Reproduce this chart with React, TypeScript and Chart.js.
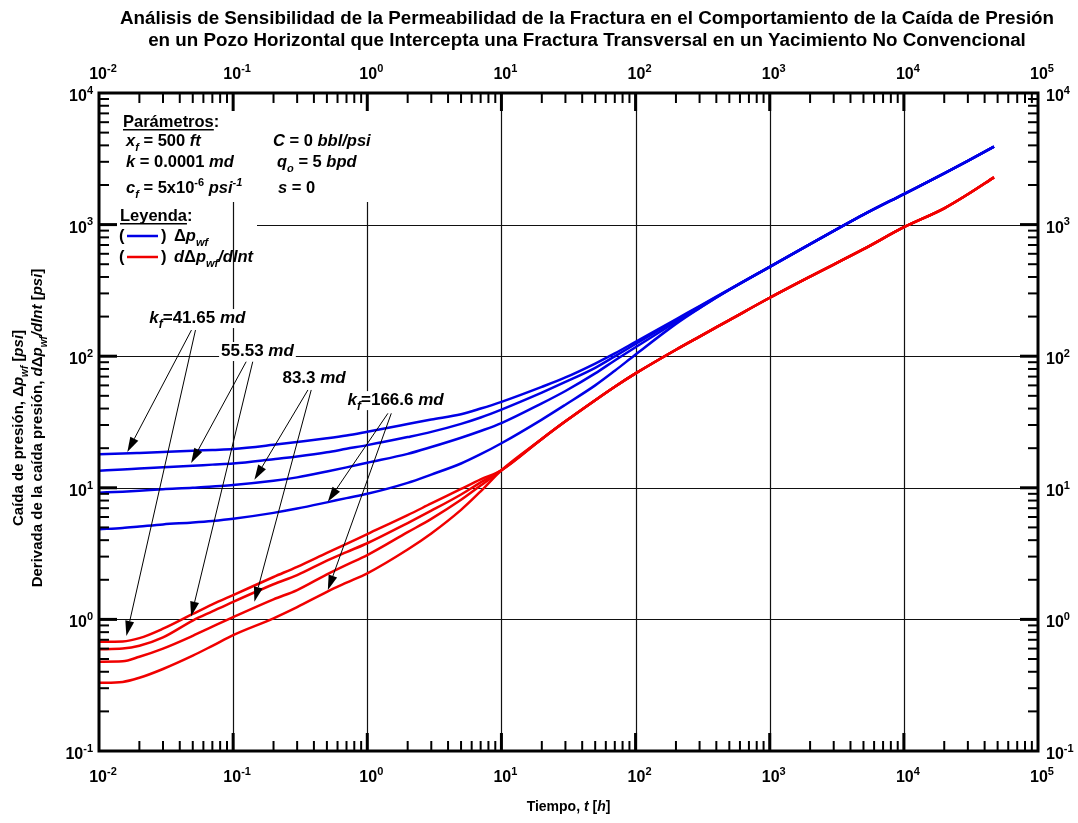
import React, { useEffect, useRef } from "react";
import { Chart, registerables } from "chart.js";
Chart.register(...registerables);

// ---------- data ----------
const tiempo = [0.01, 0.015, 0.02, 0.03, 0.05, 0.07, 0.1, 0.2, 0.3, 0.5, 0.7, 1, 2, 3, 5, 7, 10, 20, 30, 50, 70, 100, 200, 300, 500, 1000, 2000, 5000, 10000, 20000, 30000, 47000];

const dp_41_65 = [17.96, 18.2, 18.4, 18.7, 19.1, 19.4, 19.7, 21.2, 22.3, 23.8, 25.0, 26.7, 30.5, 33.0, 36.2, 40.0, 45, 58.5, 69, 88, 105, 128.6, 191, 240, 322, 478, 710, 1190, 1706, 2450, 3050, 3917];
const dp_55_53 = [13.5, 13.75, 14.0, 14.3, 14.7, 15.0, 15.3, 16.5, 17.3, 18.6, 19.8, 21.1, 24.3, 26.6, 30.6, 34.2, 39.3, 52.9, 63.7, 81.6, 99.6, 123.7, 187.5, 238.7, 321, 478, 710, 1190, 1706, 2450, 3050, 3917];
const dp_83_3 = [9.18, 9.35, 9.5, 9.75, 10.0, 10.25, 10.5, 11.3, 12.0, 13.3, 14.3, 15.5, 18.1, 20.4, 24.0, 27.0, 31.0, 43.8, 54.4, 74.0, 92.8, 117, 182, 233, 320, 478, 710, 1190, 1706, 2450, 3050, 3917];
const dp_166_6 = [4.84, 4.95, 5.08, 5.27, 5.45, 5.6, 5.82, 6.45, 6.95, 7.75, 8.35, 9.0, 10.9, 12.6, 15.3, 18.0, 21.8, 33, 42.8, 60, 77.5, 103, 176, 232, 320, 478, 710, 1190, 1706, 2450, 3050, 3917];

const der_41_65 = [0.676, 0.68, 0.72, 0.85, 1.1, 1.3, 1.53, 2.1, 2.51, 3.2, 3.75, 4.45, 6.2, 7.6, 9.8, 11.6, 13.6, 23.5, 32, 46.3, 58.6, 74, 112, 141, 188, 278, 403, 650, 955, 1330, 1700, 2286];
const der_55_53 = [0.593, 0.6, 0.63, 0.73, 0.98, 1.15, 1.36, 1.85, 2.17, 2.8, 3.25, 3.79, 5.4, 6.7, 8.9, 11.0, 13.6, 23.5, 32, 46.3, 58.6, 74, 112, 141, 188, 278, 403, 650, 955, 1330, 1700, 2286];
const der_83_3 = [0.477, 0.48, 0.52, 0.6, 0.75, 0.88, 1.04, 1.42, 1.67, 2.2, 2.6, 3.08, 4.6, 5.8, 8.1, 10.4, 13.6, 23.5, 32, 46.3, 58.6, 74, 112, 141, 188, 278, 403, 650, 955, 1330, 1700, 2286];
const der_166_6 = [0.33, 0.335, 0.36, 0.42, 0.53, 0.63, 0.76, 1.02, 1.24, 1.62, 1.9, 2.24, 3.4, 4.5, 6.8, 9.4, 13.6, 23.5, 32, 46.3, 58.6, 74, 112, 141, 188, 278, 403, 650, 955, 1330, 1700, 2286];

const xTickExponents = [-2, -1, 0, 1, 2, 3, 4, 5];
const yTickExponents = [-1, 0, 1, 2, 3, 4];

// annotation labels (data units: time, value at text baseline-left)
const labelTimes = [0.0237, 0.0813, 0.233, 0.713];
const labelValues = [178.6, 100.3, 62.5, 42.5];
// arrows: start (time, value) -> end (time, value)
const arrowFromT = [0.0489, 0.0524, 0.125, 0.14, 0.361, 0.382, 1.425, 1.51];
const arrowFromV = [158, 158, 90.8, 90.8, 55.4, 55.4, 36.8, 36.8];
const arrowToT = [0.01626, 0.016, 0.0486, 0.0486, 0.144, 0.144, 0.508, 0.508];
const arrowToV = [18.7, 0.748, 15.4, 1.05, 11.5, 1.36, 7.84, 1.67];

// ---------- drawing helpers ----------
const FONT = '"Liberation Sans", Arial, Helvetica, sans-serif';
type Seg = { t: string; i?: boolean; s?: "sub" | "sup"; u?: boolean };

function fnt(size: number, italic?: boolean) {
  return `${italic ? "italic " : ""}bold ${size}px ${FONT}`;
}
function segSize(seg: Seg, size: number) {
  return seg.s ? Math.round(size * 0.68) : size;
}
function richWidth(ctx: CanvasRenderingContext2D, segs: Seg[], size: number) {
  let w = 0;
  for (const s of segs) {
    ctx.font = fnt(segSize(s, size), s.i);
    w += ctx.measureText(s.t).width;
  }
  return w;
}
function drawRich(ctx: CanvasRenderingContext2D, x: number, y: number, segs: Seg[], size: number, align: "left" | "center" | "right" = "left") {
  const w = richWidth(ctx, segs, size);
  let cx = align === "center" ? x - w / 2 : align === "right" ? x - w : x;
  ctx.textAlign = "left";
  ctx.textBaseline = "alphabetic";
  for (const s of segs) {
    const sz = segSize(s, size);
    const dy = s.s === "sub" ? size * 0.3 : s.s === "sup" ? -size * 0.45 : 0;
    ctx.font = fnt(sz, s.i);
    ctx.fillText(s.t, cx, y + dy);
    const sw = ctx.measureText(s.t).width;
    if (s.u) {
      ctx.fillRect(cx, y + 2, sw, 1.5);
    }
    cx += sw;
  }
  return w;
}
function pow10Label(e: number): Seg[] {
  return [{ t: "10" }, { t: String(e), s: "sup" }];
}

const annotationLabels: Seg[][] = [
  [{ t: "k", i: true }, { t: "f", i: true, s: "sub" }, { t: "=41.65 " }, { t: "md", i: true }],
  [{ t: "55.53 " }, { t: "md", i: true }],
  [{ t: "83.3 " }, { t: "md", i: true }],
  [{ t: "k", i: true }, { t: "f", i: true, s: "sub" }, { t: "=166.6 " }, { t: "md", i: true }],
];

const decor = {
  id: "decor",
  beforeDatasetsDraw(chart: any) {
    const { ctx, chartArea: a, scales } = chart;
    const x = scales.x, y = scales.y;
    ctx.save();
    ctx.strokeStyle = "#111";
    ctx.lineWidth = 1.2;
    for (let e = -1; e <= 4; e++) {
      const px = Math.round(x.getPixelForValue(10 ** e)) + 0.5;
      const top = e <= 0 ? 202 : a.top;
      ctx.beginPath();
      ctx.moveTo(px, top);
      ctx.lineTo(px, a.bottom);
      ctx.stroke();
    }
    for (let e = 0; e <= 3; e++) {
      const py = Math.round(y.getPixelForValue(10 ** e)) + 0.5;
      const left = e === 3 ? 257 : a.left;
      ctx.beginPath();
      ctx.moveTo(left, py);
      ctx.lineTo(a.right, py);
      ctx.stroke();
    }
    ctx.restore();
  },
  afterDatasetsDraw(chart: any) {
    const { ctx, chartArea: a, scales } = chart;
    const x = scales.x, y = scales.y;
    ctx.save();
    ctx.fillStyle = "#000";
    // annotation labels
    for (let i = 0; i < annotationLabels.length; i++) {
      const lx = x.getPixelForValue(labelTimes[i]);
      const ly = y.getPixelForValue(labelValues[i]);
      const w = richWidth(ctx, annotationLabels[i], 17);
      ctx.fillStyle = "#fff";
      ctx.fillRect(lx - 2, ly - 14, w + 4, 19);
      ctx.fillStyle = "#000";
      drawRich(ctx, lx, ly, annotationLabels[i], 17);
    }
    // arrows
    ctx.strokeStyle = "#000";
    ctx.lineWidth = 1;
    for (let i = 0; i < arrowFromT.length; i++) {
      const x0 = x.getPixelForValue(arrowFromT[i]);
      const y0 = y.getPixelForValue(arrowFromV[i]);
      const x1 = x.getPixelForValue(arrowToT[i]);
      const y1 = y.getPixelForValue(arrowToV[i]);
      const ang = Math.atan2(y1 - y0, x1 - x0);
      const L = 15, H = 4.5;
      const bx = x1 - L * Math.cos(ang), by = y1 - L * Math.sin(ang);
      ctx.beginPath();
      ctx.moveTo(x0, y0);
      ctx.lineTo(bx, by);
      ctx.stroke();
      ctx.beginPath();
      ctx.moveTo(x1, y1);
      ctx.lineTo(bx + H * Math.sin(ang), by - H * Math.cos(ang));
      ctx.lineTo(bx - H * Math.sin(ang), by + H * Math.cos(ang));
      ctx.closePath();
      ctx.fill();
    }
    // ticks
    ctx.strokeStyle = "#000";
    const drawTick = (x0: number, y0: number, x1: number, y1: number, w: number) => {
      ctx.lineWidth = w;
      ctx.beginPath();
      ctx.moveTo(x0, y0);
      ctx.lineTo(x1, y1);
      ctx.stroke();
    };
    for (let e = -2; e < 5; e++) {
      for (let m = 1; m <= 9; m++) {
        if (m === 1 && e === -2) continue;
        const px = x.getPixelForValue(m * 10 ** e);
        const len = m === 1 ? 18 : 10;
        const w = m === 1 ? 3 : 2;
        drawTick(px, a.bottom, px, a.bottom - len, w);
        drawTick(px, a.top, px, a.top + len, w);
      }
    }
    for (let e = -1; e < 4; e++) {
      for (let m = 1; m <= 9; m++) {
        if (m === 1 && e === -1) continue;
        const py = y.getPixelForValue(m * 10 ** e);
        const len = m === 1 ? 18 : 10;
        const w = m === 1 ? 3 : 2;
        drawTick(a.left, py, a.left + len, py, w);
        drawTick(a.right, py, a.right - len, py, w);
      }
    }
    // border
    ctx.lineWidth = 3;
    ctx.strokeRect(a.left, a.top, a.right - a.left, a.bottom - a.top);
    ctx.restore();
  },
  afterDraw(chart: any) {
    const { ctx, chartArea: a, scales } = chart;
    const x = scales.x, y = scales.y;
    ctx.save();
    ctx.fillStyle = "#000";
    // title
    ctx.font = fnt(18.8);
    ctx.textAlign = "center";
    ctx.textBaseline = "alphabetic";
    ctx.fillText("Análisis de Sensibilidad de la Permeabilidad de la Fractura en el Comportamiento de la Caída de Presión", 587, 24);
    ctx.fillText("en un Pozo Horizontal que Intercepta una Fractura Transversal en un Yacimiento No Convencional", 587, 46);
    // tick labels
    for (const e of xTickExponents) {
      const px = x.getPixelForValue(10 ** e);
      drawRich(ctx, px + 4, a.bottom + 31, pow10Label(e), 16, "center");
      drawRich(ctx, px + 4, a.top - 14, pow10Label(e), 16, "center");
    }
    for (const e of yTickExponents) {
      const py = y.getPixelForValue(10 ** e);
      drawRich(ctx, a.left - 6, py + 8, pow10Label(e), 16, "right");
      drawRich(ctx, a.right + 8, py + 8, pow10Label(e), 16, "left");
    }
    // axis titles
    drawRich(ctx, (a.left + a.right) / 2, 811, [{ t: "Tiempo, " }, { t: "t", i: true }, { t: " [" }, { t: "h", i: true }, { t: "]" }], 14, "center");
    const cy = 428;
    ctx.save();
    ctx.translate(23, cy);
    ctx.rotate(-Math.PI / 2);
    drawRich(ctx, 0, 0, [{ t: "Caída de presión, Δ" }, { t: "p", i: true }, { t: "wf", i: true, s: "sub" }, { t: " [" }, { t: "psi", i: true }, { t: "]" }], 15, "center");
    ctx.restore();
    ctx.save();
    ctx.translate(42, cy);
    ctx.rotate(-Math.PI / 2);
    drawRich(ctx, 0, 0, [{ t: "Derivada de la caída presión, " }, { t: "d", i: true }, { t: "Δ" }, { t: "p", i: true }, { t: "wf", i: true, s: "sub" }, { t: "/dlnt", i: true }, { t: " [" }, { t: "psi", i: true }, { t: "]" }], 15, "center");
    ctx.restore();
    // parameters block
    const fs = 16.5;
    drawRich(ctx, 123, 127, [{ t: "Parámetros", u: true }, { t: ":" }], fs);
    drawRich(ctx, 126, 146, [{ t: "x", i: true }, { t: "f", i: true, s: "sub" }, { t: " = 500 " }, { t: "ft", i: true }], fs);
    drawRich(ctx, 126, 167, [{ t: "k", i: true }, { t: " = 0.0001 " }, { t: "md", i: true }], fs);
    drawRich(ctx, 126, 193, [{ t: "c", i: true }, { t: "f", i: true, s: "sub" }, { t: " = 5x10" }, { t: "-6", s: "sup" }, { t: " psi", i: true }, { t: "-1", i: true, s: "sup" }], fs);
    drawRich(ctx, 273, 146, [{ t: "C", i: true }, { t: " = 0 " }, { t: "bbl/psi", i: true }], fs);
    drawRich(ctx, 277, 167, [{ t: "q", i: true }, { t: "o", i: true, s: "sub" }, { t: " = 5 " }, { t: "bpd", i: true }], fs);
    drawRich(ctx, 278, 193, [{ t: "s", i: true }, { t: " = 0" }], fs);
    drawRich(ctx, 120, 221, [{ t: "Leyenda", u: true }, { t: ":" }], fs);
    // legend entries
    const legendRows = [
      { color: "#0000e6", y: 241, segs: [{ t: "Δ" }, { t: "p", i: true }, { t: "wf", i: true, s: "sub" }] as Seg[] },
      { color: "#f00000", y: 262, segs: [{ t: "d", i: true }, { t: "Δ" }, { t: "p", i: true }, { t: "wf", i: true, s: "sub" }, { t: "/dlnt", i: true }] as Seg[] },
    ];
    for (const r of legendRows) {
      drawRich(ctx, 119, r.y, [{ t: "(" }], fs);
      drawRich(ctx, 161, r.y, [{ t: ")" }], fs);
      ctx.strokeStyle = r.color;
      ctx.lineWidth = 2.5;
      ctx.beginPath();
      ctx.moveTo(127, r.y - 5);
      ctx.lineTo(158, r.y - 5);
      ctx.stroke();
      ctx.fillStyle = "#000";
      drawRich(ctx, 174, r.y, r.segs, fs);
    }
    ctx.restore();
  },
};

function series(vals: number[]) {
  return tiempo.map((t, i) => ({ x: t, y: vals[i] }));
}

export default function App() {
  const ref = useRef<HTMLCanvasElement | null>(null);
  useEffect(() => {
    if (!ref.current) return;
    const blue = "#0000e6";
    const red = "#f00000";
    const mk = (label: string, vals: number[], color: string) => ({
      label,
      data: series(vals),
      borderColor: color,
      backgroundColor: color,
      borderWidth: 2.5,
      pointRadius: 0,
      showLine: true,
      fill: false,
      cubicInterpolationMode: "monotone" as const,
    });
    const chart = new Chart(ref.current, {
      type: "line",
      data: {
        datasets: [
          mk("dΔp 41.65", der_41_65, red),
          mk("dΔp 55.53", der_55_53, red),
          mk("dΔp 83.3", der_83_3, red),
          mk("dΔp 166.6", der_166_6, red),
          mk("Δp 41.65", dp_41_65, blue),
          mk("Δp 55.53", dp_55_53, blue),
          mk("Δp 83.3", dp_83_3, blue),
          mk("Δp 166.6", dp_166_6, blue),
        ],
      },
      options: {
        responsive: false,
        devicePixelRatio: 1,
        animation: false,
        parsing: false as any,
        layout: { padding: { left: 99, right: 40, top: 93, bottom: 72 } },
        plugins: { legend: { display: false }, tooltip: { enabled: false }, title: { display: false } },
        scales: {
          x: { type: "logarithmic", display: false, min: 0.01, max: 1e5 },
          y: { type: "logarithmic", display: false, min: 0.1, max: 1e4 },
        },
      },
      plugins: [decor],
    });
    return () => chart.destroy();
  }, []);
  return (
    <div style={{ position: "fixed", left: 0, top: 0, width: 1078, height: 823, background: "#fff" }}>
      <canvas ref={ref} width={1078} height={823} style={{ width: 1078, height: 823 }} />
    </div>
  );
}
